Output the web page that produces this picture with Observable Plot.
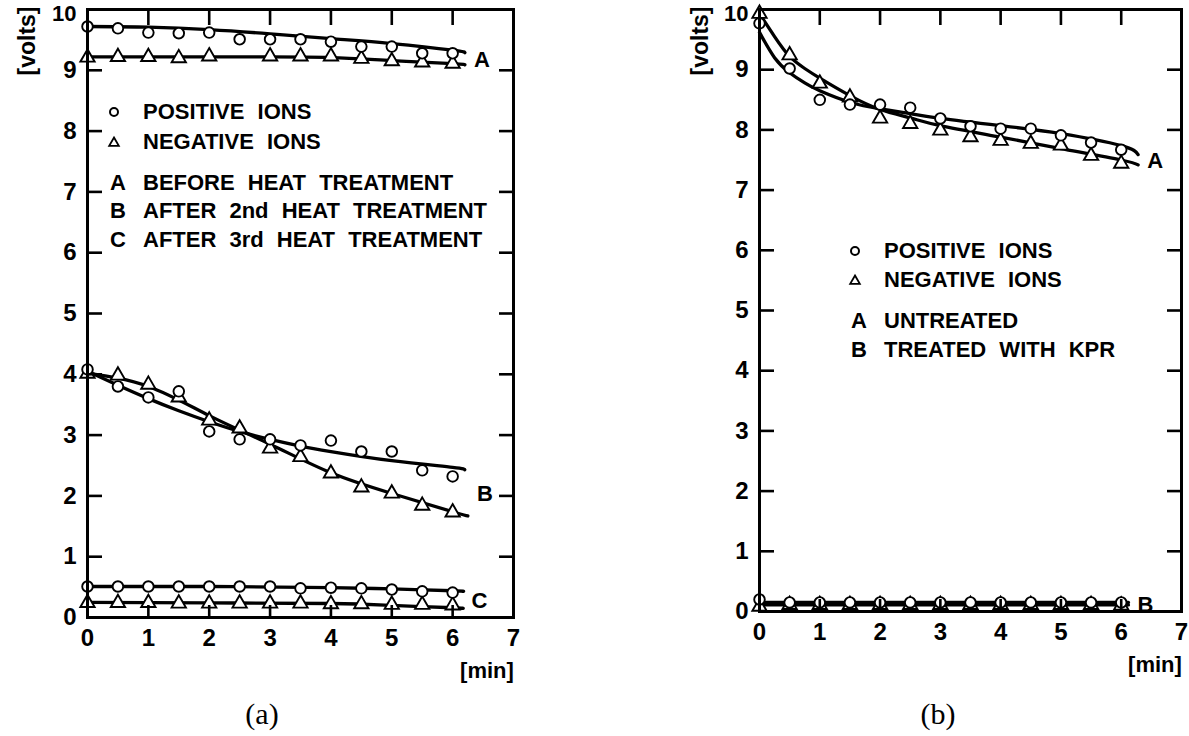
<!DOCTYPE html>
<html>
<head>
<meta charset="utf-8">
<script src="https://cdn.jsdelivr.net/npm/d3@7"></script>
<script src="https://cdn.jsdelivr.net/npm/@observablehq/plot@0.6"></script>
<style>
  body { margin: 0; background: #fff; }
  #root { position: relative; width: 1189px; height: 736px; overflow: hidden; background: #fff; }
  #root > svg { position: absolute; top: 0; }
  #left { left: 0; }
  #right { left: 594px; }
  #overlay { left: 0; pointer-events: none; }
</style>
</head>
<body>
<div id="root"></div>
<script>
// ---------- DATA ----------
const timeAll = [0, 0.5, 1, 1.5, 2, 2.5, 3, 3.5, 4, 4.5, 5, 5.5, 6];
const xTickLabels = [0, 1, 2, 3, 4, 5, 6, 7];
const yTickLabels = [0, 1, 2, 3, 4, 5, 6, 7, 8, 9];
const yTopLabel = [10];
const xTickMarks = [1, 2, 3, 4, 5, 6];
const yTickMarks = [1, 2, 3, 4, 5, 6, 7, 8, 9];

// Panel (a) measured points
const aPosA = [9.72, 9.69, 9.62, 9.61, 9.62, 9.51, 9.51, 9.51, 9.47, 9.39, 9.39, 9.28, 9.28];
const aNegATime = [0, 0.5, 1, 1.5, 2, 3, 3.5, 4, 4.5, 5, 5.5, 6];
const aNegA = [9.21, 9.22, 9.22, 9.2, 9.23, 9.23, 9.23, 9.23, 9.19, 9.15, 9.13, 9.11];
const aPosB = [4.08, 3.8, 3.62, 3.72, 3.06, 2.93, 2.93, 2.83, 2.91, 2.73, 2.73, 2.42, 2.32];
const aNegB = [4.01, 3.98, 3.83, 3.62, 3.24, 3.11, 2.78, 2.64, 2.37, 2.14, 2.04, 1.84, 1.73];
const aPosC = [0.51, 0.51, 0.51, 0.51, 0.51, 0.51, 0.51, 0.48, 0.49, 0.48, 0.46, 0.43, 0.41];
const aNegC = [0.24, 0.24, 0.24, 0.23, 0.23, 0.23, 0.23, 0.23, 0.22, 0.22, 0.21, 0.21, 0.2];

// Panel (a) fitted curves
const aFitPosATime = [0, 1, 2, 3, 4, 5, 6, 6.2];
const aFitPosA = [9.72, 9.71, 9.67, 9.6, 9.52, 9.44, 9.33, 9.29];
const aFitNegATime = [0, 1, 2, 3, 4, 5, 6, 6.2];
const aFitNegA = [9.22, 9.22, 9.22, 9.22, 9.21, 9.16, 9.11, 9.09];
const aFitPosBTime = [0, 0.5, 1, 1.5, 2, 2.5, 3, 3.5, 4, 5, 6, 6.2];
const aFitPosB = [4.05, 3.82, 3.6, 3.4, 3.22, 3.06, 2.93, 2.82, 2.73, 2.58, 2.47, 2.43];
const aFitNegBTime = [0, 1, 2, 3, 4, 5, 6, 6.25];
const aFitNegB = [4.02, 3.8, 3.32, 2.85, 2.38, 2.04, 1.74, 1.67];
const aFitPosCTime = [0, 2, 4, 5, 6, 6.16];
const aFitPosC = [0.51, 0.51, 0.49, 0.47, 0.44, 0.43];
const aFitNegCTime = [0, 2, 4, 5, 6, 6.15];
const aFitNegC = [0.25, 0.24, 0.23, 0.2, 0.16, 0.15];

// Panel (b) measured points
const bPosA = [9.77, 9.02, 8.5, 8.42, 8.42, 8.37, 8.19, 8.06, 8.02, 8.02, 7.91, 7.79, 7.67];
const bNegA = [9.93, 9.24, 8.77, 8.54, 8.19, 8.1, 7.99, 7.88, 7.82, 7.77, 7.74, 7.57, 7.44];
const bPosB = [0.2, 0.15, 0.15, 0.15, 0.15, 0.15, 0.15, 0.15, 0.15, 0.15, 0.15, 0.15, 0.15];
const bNegB = [0.08, 0.11, 0.11, 0.11, 0.11, 0.11, 0.11, 0.11, 0.11, 0.11, 0.11, 0.11, 0.1];

// Panel (b) fitted curves
const bFitATime = [0, 0.25, 0.5, 0.75, 1, 1.5, 2, 2.5, 3, 4, 5, 6, 6.28];
const bFitPosA = [9.62, 9.2, 8.95, 8.78, 8.65, 8.46, 8.35, 8.27, 8.19, 8.07, 7.94, 7.74, 7.59];
const bFitNegA = [9.93, 9.55, 9.22, 9.02, 8.86, 8.57, 8.34, 8.2, 8.07, 7.88, 7.69, 7.5, 7.42];
const bFitBTime = [0, 6.12];
const bFitPosB = [0.15, 0.15];
const bFitNegB = [0.11, 0.11];

// Curve labels
const aCurveLabels = ["A", "B", "C"];
const bCurveLabels = ["A", "B"];

// Legends / texts
const aLegendIons = ["POSITIVE IONS", "NEGATIVE IONS"];
const aLegendKeys = ["A", "B", "C"];
const aLegendTexts = ["BEFORE HEAT TREATMENT", "AFTER 2nd HEAT TREATMENT", "AFTER 3rd HEAT TREATMENT"];
const bLegendIons = ["POSITIVE IONS", "NEGATIVE IONS"];
const bLegendKeys = ["A", "B"];
const bLegendTexts = ["UNTREATED", "TREATED WITH KPR"];
const yUnit = "[volts]";
const xUnit = "[min]";
const captions = ["(a)", "(b)"];

// ---------- helpers ----------
const pts = (xs, ys) => xs.map((x, i) => ({x, y: ys[i]}));
const FONT = "Liberation Sans, Arial, sans-serif";
const fmtInt = d => String(d);

function panel({width, height, marginLeft, marginRight, marginTop, marginBottom, posSets, negSets, curves, labels}) {
  const marks = [];
  for (const c of curves) {
    marks.push(Plot.line(c, {x: "x", y: "y", curve: "natural", stroke: "black", strokeWidth: 3.3}));
  }
  labels.forEach((lab, i) => {
    const c1 = curves[2 * i], c2 = curves[2 * i + 1];
    const e1 = c1[c1.length - 1], e2 = c2[c2.length - 1];
    marks.push(Plot.text([lab], {
      x: () => Math.max(e1.x, e2.x), y: () => (e1.y + e2.y) / 2,
      text: d => d, dx: 17, dy: 1, textAnchor: "middle", fontSize: 22, fontWeight: "bold", fill: "black"
    }));
  });
  for (const s of negSets) {
    marks.push(Plot.dot(s, {x: "x", y: "y", symbol: "triangle", r: 5.3, fill: "white", stroke: "black", strokeWidth: 1.9}));
  }
  for (const s of posSets) {
    marks.push(Plot.dot(s, {x: "x", y: "y", r: 5.3, fill: "white", stroke: "black", strokeWidth: 1.9}));
  }
  return Plot.plot({
    width, height, marginLeft, marginRight, marginTop, marginBottom,
    style: {fontFamily: FONT, fontSize: "24px", fontWeight: "bold", color: "black", background: "transparent", overflow: "visible"},
    x: {domain: [0, 7]},
    y: {domain: [0, 10]},
    marks: [
      ...marks,
      Plot.axisY(yTickMarks, {anchor: "left", tickSize: -15, fill: "none", strokeWidth: 2.6, label: null}),
      Plot.axisY(yTickMarks, {anchor: "right", tickSize: -15, fill: "none", strokeWidth: 2.6, label: null}),
      Plot.axisX(xTickMarks, {anchor: "top", tickSize: -15, fill: "none", strokeWidth: 2.6, label: null}),
      Plot.axisX(xTickMarks, {anchor: "bottom", tickSize: -12, fill: "none", strokeWidth: 2.6, label: null}),
      Plot.axisY(yTickLabels, {anchor: "left", tickSize: 0, tickPadding: 11, label: null, tickFormat: fmtInt, fontSize: 24, fontWeight: "bold"}),
      Plot.axisY(yTopLabel, {anchor: "left", tickSize: 0, tickPadding: 11, dy: 4, label: null, tickFormat: fmtInt, fontSize: 22, fontWeight: "bold"}),
      Plot.axisX(xTickLabels, {anchor: "bottom", tickSize: 0, tickPadding: 11, label: null, tickFormat: fmtInt, fontSize: 24, fontWeight: "bold"}),
      Plot.frame({stroke: "black", strokeWidth: 3})
    ]
  });
}

const root = document.getElementById("root");

const left = panel({
  width: 594, height: 690, marginLeft: 87, marginRight: 81, marginTop: 9, marginBottom: 73,
  curves: [
    pts(aFitPosATime, aFitPosA), pts(aFitNegATime, aFitNegA),
    pts(aFitPosBTime, aFitPosB), pts(aFitNegBTime, aFitNegB),
    pts(aFitPosCTime, aFitPosC), pts(aFitNegCTime, aFitNegC)
  ],
  labels: aCurveLabels,
  posSets: [pts(timeAll, aPosA), pts(timeAll, aPosB), pts(timeAll, aPosC)],
  negSets: [pts(aNegATime, aNegA), pts(timeAll, aNegB), pts(timeAll, aNegC)]
});
left.id = "left";
root.appendChild(left);

const right = panel({
  width: 595, height: 690, marginLeft: 165, marginRight: 8, marginTop: 9, marginBottom: 79,
  curves: [
    pts(bFitATime, bFitPosA), pts(bFitATime, bFitNegA),
    pts(bFitBTime, bFitPosB), pts(bFitBTime, bFitNegB)
  ],
  labels: bCurveLabels,
  posSets: [pts(timeAll, bPosA), pts(timeAll, bPosB)],
  negSets: [pts(timeAll, bNegA), pts(timeAll, bNegB)]
});
right.id = "right";
root.appendChild(right);

// ---------- overlay texts (legends, units, captions) ----------
const ov = d3.select(root).append("svg").attr("id", "overlay")
  .attr("width", 1189).attr("height", 736);
const txt = (x, y, s, opts = {}) => ov.append("text")
  .attr("x", x).attr("y", y).text(s)
  .attr("font-family", opts.family || FONT)
  .attr("font-size", opts.size || 22)
  .attr("font-weight", opts.weight || "bold")
  .attr("text-anchor", opts.anchor || "start")
  .attr("dominant-baseline", opts.baseline || "alphabetic")
  .attr("transform", opts.transform || null)
  .attr("word-spacing", opts.ws || null)
  .attr("fill", "black");

function legend(symX, textX, keyX, ionBase, keyBase, ions, keys, texts) {
  ov.append("circle").attr("cx", symX).attr("cy", ionBase[0] - 7).attr("r", 4)
    .attr("fill", "white").attr("stroke", "black").attr("stroke-width", 2);
  const ty = ionBase[1] - 7;
  ov.append("path").attr("d", `M${symX},${ty - 4.5}L${symX + 4.8},${ty + 3.8}L${symX - 4.8},${ty + 3.8}Z`)
    .attr("fill", "white").attr("stroke", "black").attr("stroke-width", 1.8);
  ions.forEach((s, i) => txt(textX, ionBase[i], s, {ws: 7}));
  keys.forEach((k, i) => {
    txt(keyX, keyBase[i], k);
    txt(textX, keyBase[i], texts[i], {ws: 7});
  });
}
legend(114, 143, 110, [119, 149], [190, 218, 247], aLegendIons, aLegendKeys, aLegendTexts);
legend(855, 884, 851, [258, 287], [328, 357], bLegendIons, bLegendKeys, bLegendTexts);

// units
txt(0, 0, yUnit, {anchor: "middle", baseline: "central", size: 23, transform: "translate(27,41) rotate(-90)"});
txt(0, 0, yUnit, {anchor: "middle", baseline: "central", size: 23, transform: "translate(700,41) rotate(-90)"});
txt(487, 670, xUnit, {anchor: "middle", baseline: "central"});
txt(1155, 664, xUnit, {anchor: "middle", baseline: "central"});

// captions
txt(262, 713, captions[0], {anchor: "middle", baseline: "central", family: "Liberation Serif, serif", weight: "normal", size: 30});
txt(938, 713, captions[1], {anchor: "middle", baseline: "central", family: "Liberation Serif, serif", weight: "normal", size: 30});
</script>
</body>
</html>
